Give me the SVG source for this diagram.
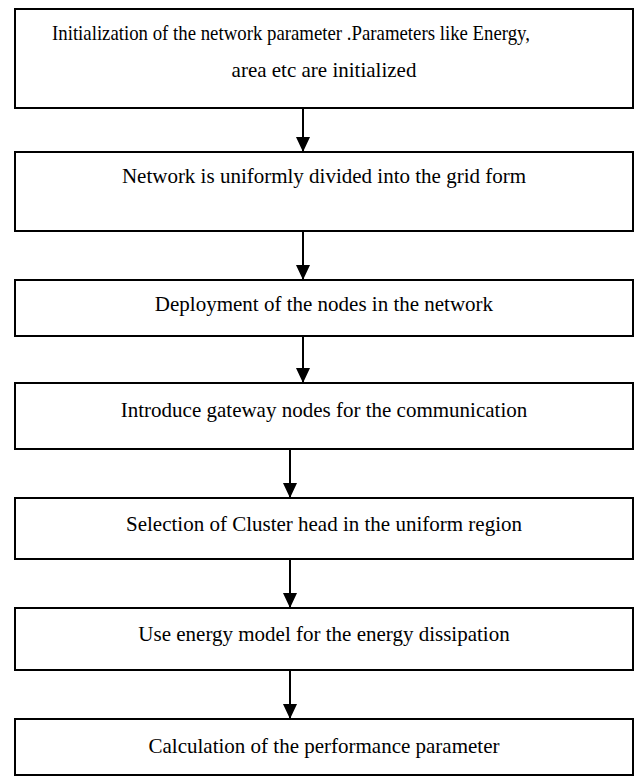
<svg xmlns="http://www.w3.org/2000/svg" width="635" height="776" viewBox="0 0 635 776">
<style>
.box{fill:#fff;stroke:#000;stroke-width:2}
.lbl{font-family:"Liberation Serif","Times New Roman",serif;font-size:21px;fill:#000;text-anchor:middle}
.conn{stroke:#000;stroke-width:2;fill:none}
</style>
<defs>
<marker id="ah" markerUnits="userSpaceOnUse" markerWidth="15" markerHeight="14" refX="15" refY="7" orient="auto">
<path d="M0,0 L15,7 L0,14 z" fill="#000"/>
</marker>
</defs>
<rect width="635" height="776" fill="#fff"/>
<g id="n1"><rect class="box" x="15" y="9" width="618" height="99"/>
<text class="lbl" x="291" y="39.5" textLength="478" lengthAdjust="spacingAndGlyphs">Initialization of the network parameter .Parameters like Energy,</text>
<text class="lbl" x="324" y="77">area etc are initialized</text></g>
<g id="n2"><rect class="box" x="15" y="152" width="618" height="79"/>
<text class="lbl" x="324" y="183">Network is uniformly divided into the grid form</text></g>
<g id="n3"><rect class="box" x="15" y="280" width="618" height="56"/>
<text class="lbl" x="324" y="311">Deployment of the nodes in the network</text></g>
<g id="n4"><rect class="box" x="15" y="383" width="618" height="66"/>
<text class="lbl" x="324" y="417">Introduce gateway nodes for the communication</text></g>
<g id="n5"><rect class="box" x="15" y="498" width="618" height="61"/>
<text class="lbl" x="324" y="531">Selection of Cluster head in the uniform region</text></g>
<g id="n6"><rect class="box" x="15" y="608" width="618" height="62"/>
<text class="lbl" x="324" y="641">Use energy model for the energy dissipation</text></g>
<g id="n7"><rect class="box" x="15" y="719" width="618" height="56"/>
<text class="lbl" x="324" y="753">Calculation of the performance parameter</text></g>
<g id="connectors">
<line class="conn" x1="303" y1="108" x2="303" y2="152" marker-end="url(#ah)"/>
<line class="conn" x1="303" y1="231" x2="303" y2="280" marker-end="url(#ah)"/>
<line class="conn" x1="303" y1="336" x2="303" y2="383" marker-end="url(#ah)"/>
<line class="conn" x1="290" y1="449" x2="290" y2="498" marker-end="url(#ah)"/>
<line class="conn" x1="290" y1="559" x2="290" y2="608" marker-end="url(#ah)"/>
<line class="conn" x1="290" y1="670" x2="290" y2="719" marker-end="url(#ah)"/>
</g>
</svg>
